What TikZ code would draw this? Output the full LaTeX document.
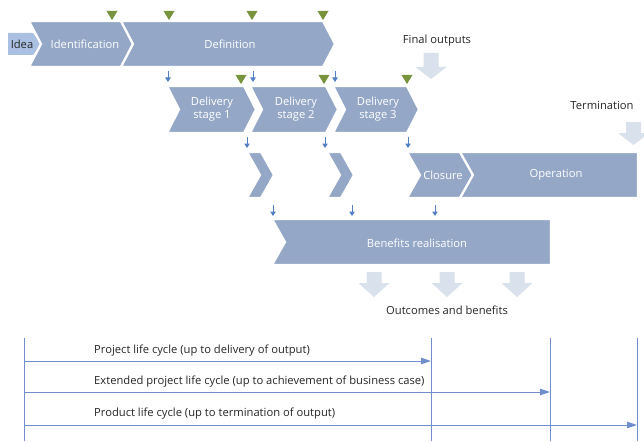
\documentclass[tikz,border=0pt]{standalone}
\usepackage{fontspec}
\setmainfont{Open Sans}
\usetikzlibrary{arrows.meta}

\definecolor{chevfill}{RGB}{149,167,198}
\definecolor{ideafill}{RGB}{170,192,226}
\definecolor{palefill}{RGB}{217,225,236}
\definecolor{milegreen}{RGB}{119,147,60}
\definecolor{tickblue}{RGB}{84,128,196}
\definecolor{spanblue}{RGB}{112,142,204}

% chevron: left x, right x, top y, bottom y, point depth
\newcommand{\chevpath}[5]{(#1,#3) -- (#2,#3) -- ({#2+#5},{(#3+#4)/2}) -- (#2,#4) -- (#1,#4) -- ({#1+#5},{(#3+#4)/2}) -- cycle}
% green milestone triangle: centre x, top y
\newcommand{\milestone}[2]{\fill[milegreen] ({#1-5.5},#2) -- ({#1+5.5},#2) -- (#1,{#2+9}) -- cycle;}
% small blue pointer: x, top y
\newcommand{\pointer}[2]{\draw[tickarrow] (#1,#2) -- (#1,{#2+11});}
% pale block arrow: centre x, top y, head start y, tip y
\newcommand{\blockarrow}[4]{\fill[palefill] ({#1-7.5},#2) -- ({#1+7.5},#2) -- ({#1+7.5},#3) -- ({#1+15.5},#3) -- (#1,#4) -- ({#1-15.5},#3) -- ({#1-7.5},#3) -- cycle;}

\tikzset{
  chevbox/.style={fill=chevfill, draw=white, line width=2.2pt, line join=miter},
  chevtext/.style={text=white, font=\fontsize{11.2}{13}\selectfont, align=center, inner sep=0pt},
  plaintext/.style={text=black!85, font=\fontsize{11.2}{13}\selectfont, inner sep=0pt},
  tickarrow/.style={tickblue, line width=1pt, -{Triangle[length=4.5pt,width=5.5pt]}},
  spanarrow/.style={spanblue, line width=1pt, -{Triangle[length=10pt,width=6.5pt]}},
  spanline/.style={spanblue, line width=1pt},
}

\begin{document}
\begin{tikzpicture}[x=1pt,y=-1pt]
\useasboundingbox (0,0) rectangle (644,441);
\begin{scope}
\clip (0,0) rectangle (644,441);

% ---- row 1: idea, identification, definition
\fill[ideafill] (8,33) -- (33,33) -- (41,44) -- (33,55) -- (8,55) -- cycle;
\filldraw[chevbox] \chevpath{29}{121}{21}{67}{12};
\filldraw[chevbox] \chevpath{121}{323}{21}{67}{12};
\node[plaintext] (idea) at (22,44) {Idea};
\node[chevtext] (ident) at (85,44) {Identification};
\node[chevtext] (defin) at (230,44) {Definition};
\milestone{112}{11}
\milestone{169}{11}
\milestone{252}{11}
\milestone{323}{11}

% ---- row 2: delivery stages
\filldraw[chevbox] \chevpath{167}{244}{86}{133}{12};
\filldraw[chevbox] \chevpath{250}{326}{86}{133}{12};
\filldraw[chevbox] \chevpath{333}{407}{86}{133}{12};
\node[chevtext] (ds1) at (212,109) {Delivery\\stage 1};
\node[chevtext] (ds2) at (296,109) {Delivery\\stage 2};
\node[chevtext] (ds3) at (378,109) {Delivery\\stage 3};
\milestone{241}{75}
\milestone{324}{75}
\milestone{407}{75}
\pointer{168}{71}
\pointer{253}{71}
\pointer{335}{71}

\blockarrow{431}{53}{67}{79}
\node[plaintext] (final) at (437,41) {Final outputs};

% ---- row 3: handovers, closure, operation
\filldraw[chevbox] \chevpath{247}{261}{152}{198}{13};
\filldraw[chevbox] \chevpath{327}{341}{152}{198}{13};
\filldraw[chevbox] \chevpath{407}{460}{152}{198}{13};
\filldraw[chevbox] (460,152) -- (638,152) -- (638,198) -- (460,198) -- (473,175) -- cycle;
\node[chevtext] (closure) at (443,175) {Closure};
\node[chevtext] (oper) at (556,175) {Operation};
\pointer{247}{137}
\pointer{325}{137}
\pointer{408}{137}

\blockarrow{633.5}{122}{133}{145}
\node[plaintext] (term) at (602,105) {Termination};

% ---- row 4: benefits realisation
\filldraw[chevbox] (272,219) -- (551,219) -- (551,265) -- (272,265) -- (285,242) -- cycle;
\node[chevtext] (benef) at (417,243) {Benefits realisation};
\pointer{273}{205}
\pointer{352}{205}
\pointer{435}{205}

\blockarrow{374}{272}{283}{297}
\blockarrow{447}{272}{283}{297}
\blockarrow{517}{272}{283}{297}
\node[plaintext] (outc) at (447,310) {Outcomes and benefits};

% ---- life cycle spans
\coordinate (l0t) at (24,338);   \coordinate (l0b) at (24,441);
\coordinate (l1t) at (431,338);  \coordinate (l1b) at (431,441);
\coordinate (l2t) at (550,338);  \coordinate (l2b) at (550,441);
\coordinate (l3t) at (637,338);  \coordinate (l3b) at (637,441);
\draw[spanline] (l0t) -- (l0b);
\draw[spanline] (l1t) -- (l1b);
\draw[spanline] (l2t) -- (l2b);
\draw[spanline] (l3t) -- (l3b);

\coordinate (a1s) at (24,361);  \coordinate (a1e) at (431,361);
\coordinate (a2s) at (24,392);  \coordinate (a2e) at (550,392);
\coordinate (a3s) at (24,425);  \coordinate (a3e) at (637,425);
\draw[spanarrow] (a1s) -- (a1e);
\draw[spanarrow] (a2s) -- (a2e);
\draw[spanarrow] (a3s) -- (a3e);
\node[plaintext, anchor=west] (plc) at (94,351) {Project life cycle (up to delivery of output)};
\node[plaintext, anchor=west] (eplc) at (94,382) {Extended project life cycle (up to achievement of business case)};
\node[plaintext, anchor=west] (prlc) at (94,414) {Product life cycle (up to termination of output)};
\end{scope}
\end{tikzpicture}
\end{document}
